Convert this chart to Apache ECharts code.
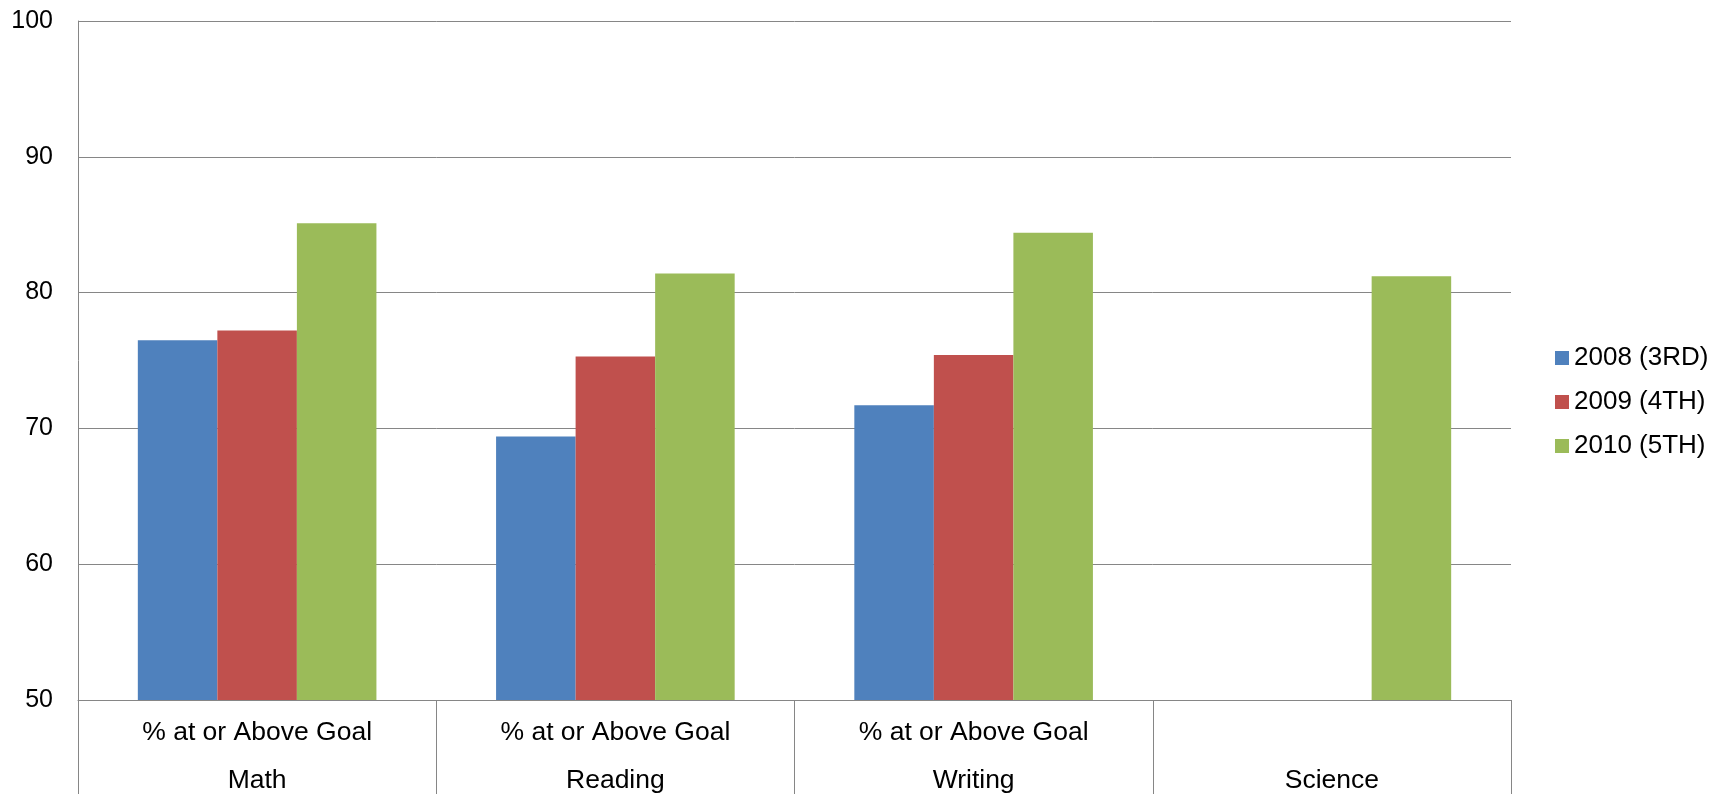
<!DOCTYPE html>
<html>
<head>
<meta charset="utf-8">
<script src="https://cdn.jsdelivr.net/npm/echarts@6/dist/echarts.min.js"></script>
<style>
html,body{margin:0;padding:0;background:#fff;}
#chart{width:1716px;height:794px;}
</style>
</head>
<body>
<div id="chart"></div>
<script>
const categories = ['Math', 'Reading', 'Writing', 'Science'];
const subLabels = ['% at or Above Goal', '% at or Above Goal', '% at or Above Goal', ''];
const seriesNames = ['2008 (3RD)', '2009 (4TH)', '2010 (5TH)'];
const values2008 = [76.5, 69.4, 71.7, null];
const values2009 = [77.2, 75.3, 75.4, null];
const values2010 = [85.1, 81.4, 84.4, 81.2];
const colors = ['#4F81BD', '#C0504D', '#9BBB59'];

const chart = echarts.init(document.getElementById('chart'), null, {renderer: 'canvas'});
const font = 'Liberation Sans, Arial, sans-serif';
const allValues = [values2008, values2009, values2010];

chart.setOption({
  animation: false,
  backgroundColor: '#fff',
  textStyle: {fontFamily: font},
  grid: {left: 78, right: 205, top: 21, bottom: 94, containLabel: false, outerBoundsMode: 'none'},
  legend: {
    orient: 'vertical',
    left: 1550,
    top: 340,
    itemWidth: 14,
    itemHeight: 14,
    itemGap: 18,
    icon: 'rect',
    textStyle: {fontSize: 26, color: '#000', fontFamily: font},
    data: seriesNames
  },
  xAxis: {
    type: 'category',
    data: categories,
    boundaryGap: true,
    axisLine: {show: true, lineStyle: {color: '#868686', width: 1}},
    axisTick: {show: true, length: 95, lineStyle: {color: '#868686', width: 1}},
    axisLabel: {
      margin: 9,
      fontSize: 26.5,
      color: '#000',
      fontFamily: font,
      lineHeight: 48,
      formatter: function (v, i) { return subLabels[i] + '\n' + v; }
    }
  },
  yAxis: {
    type: 'value',
    min: 50,
    max: 100,
    interval: 10,
    axisLine: {show: true, lineStyle: {color: '#868686', width: 1}},
    axisTick: {show: false},
    splitLine: {show: true, lineStyle: {color: '#868686', width: 1}},
    axisLabel: {fontSize: 25, color: '#000', fontFamily: font, margin: 25}
  },
  series: seriesNames.map((name, k) => ({
    name: name,
    type: 'bar',
    data: allValues[k],
    barGap: '0%',
    barCategoryGap: '33.4%',
    itemStyle: {color: colors[k]}
  }))
});
</script>
</body>
</html>
